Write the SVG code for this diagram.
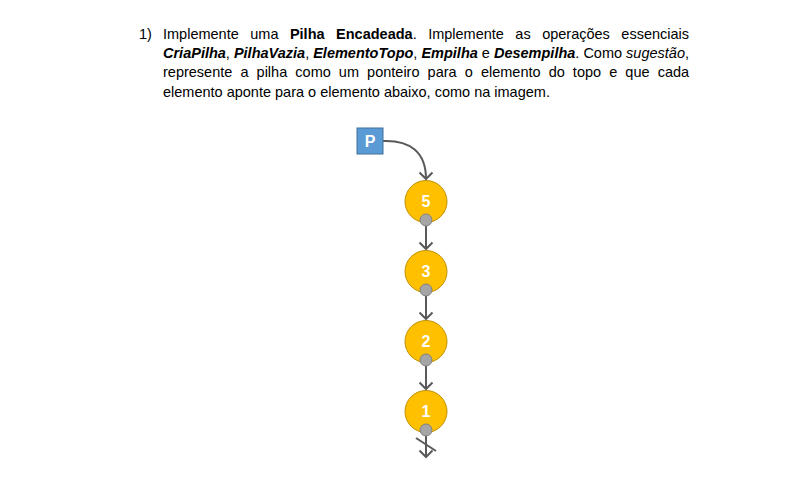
<svg xmlns="http://www.w3.org/2000/svg" width="800" height="500" viewBox="0 0 800 500">
<style>
.t{font-family:"Liberation Sans",Arial,sans-serif;font-size:14.5px;fill:#000}
.b{font-weight:bold}
.i{font-style:italic}
.bi{font-weight:bold;font-style:italic}
.circ{fill:#FFC000;stroke:#BF9000;stroke-width:1}
.dot{fill:#A5A5A5;stroke:#7F7F7F;stroke-width:1}
.num{font-family:"Liberation Sans",Arial,sans-serif;font-size:16px;font-weight:bold;fill:#fff;text-anchor:middle}
.conn{fill:none;stroke:#595959;stroke-width:2}
</style>
<defs>
<marker id="arr" markerUnits="userSpaceOnUse" markerWidth="16" markerHeight="16" refX="11" refY="8" orient="auto">
<path d="M4.5,1.5 L11,8 L4.5,14.5" fill="none" stroke="#595959" stroke-width="2"/>
</marker>
</defs>
<rect width="800" height="500" fill="#fff"/>
<g id="text">
<text class="t" x="139" y="38.5">1)</text>
<text class="t" x="163" y="38.5" word-spacing="7.45">Implemente uma <tspan class="b">Pilha Encadeada</tspan>. Implemente as operações essenciais</text>
<text class="t" x="163" y="57.8"><tspan class="bi">CriaPilha</tspan>, <tspan class="bi">PilhaVazia</tspan>, <tspan class="bi">ElementoTopo</tspan>, <tspan class="bi">Empilha</tspan> e <tspan class="bi">Desempilha</tspan>. Como <tspan class="i">sugestão</tspan>,</text>
<text class="t" x="163" y="77.1" word-spacing="4.07">represente a pilha como um ponteiro para o elemento do topo e que cada</text>
<text class="t" x="163" y="96.5">elemento aponte para o elemento abaixo, como na imagem.</text>
</g>
<g id="connectors">
<path class="conn" d="M383,141 C410,140 426,152 426,179" marker-end="url(#arr)"/>
<path class="conn" d="M426,226 L426,249" marker-end="url(#arr)"/>
<path class="conn" d="M426,296 L426,319" marker-end="url(#arr)"/>
<path class="conn" d="M426,366 L426,389" marker-end="url(#arr)"/>
<path class="conn" d="M426,436 L426,457" marker-end="url(#arr)"/>
<path class="conn" d="M416,438 L436,451"/>
</g>
<g id="node-P">
<rect x="357" y="128" width="26" height="26" fill="#5B9BD5" stroke="#41719C" stroke-width="1"/>
<text class="num" x="370" y="147" font-size="15">P</text>
</g>
<g id="node-5">
<circle class="circ" cx="426" cy="201.5" r="21"/>
<text class="num" x="426" y="207">5</text>
<circle class="dot" cx="426" cy="220" r="6"/>
</g>
<g id="node-3">
<circle class="circ" cx="426" cy="271.5" r="21"/>
<text class="num" x="426" y="277">3</text>
<circle class="dot" cx="426" cy="290" r="6"/>
</g>
<g id="node-2">
<circle class="circ" cx="426" cy="341.5" r="21"/>
<text class="num" x="426" y="347">2</text>
<circle class="dot" cx="426" cy="360" r="6"/>
</g>
<g id="node-1">
<circle class="circ" cx="426" cy="411.5" r="21"/>
<text class="num" x="426" y="417">1</text>
<circle class="dot" cx="426" cy="430" r="6"/>
</g>
</svg>
